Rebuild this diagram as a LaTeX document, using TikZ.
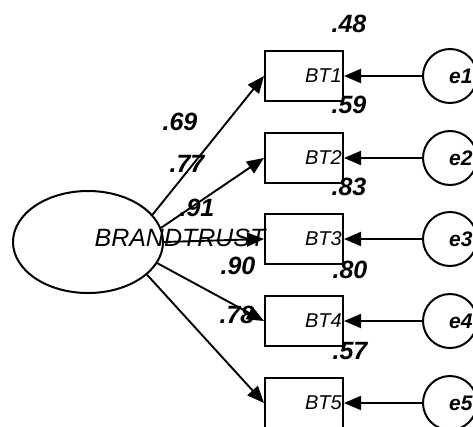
\documentclass[tikz,border=0pt]{standalone}
\usepackage{fontspec}
\setmainfont{Liberation Sans}
\usetikzlibrary{arrows.meta,shapes.geometric}
\begin{document}
\begin{tikzpicture}[x=1pt,y=-1pt,
  obs/.style={draw,line width=2pt,minimum width=78pt,minimum height=50pt,inner sep=0pt},
  err/.style={draw,circle,line width=2pt,minimum size=54pt,inner sep=0pt},
  lat/.style={draw,ellipse,line width=2pt,minimum width=150pt,minimum height=102pt,inner sep=0pt},
  arr/.style={line width=1.9pt,-{Triangle[length=17pt,width=14pt]}},
  num/.style={font=\fontsize{25}{25}\selectfont\bfseries\itshape,inner sep=0pt},
  btlab/.style={font=\fontsize{20}{20}\selectfont\itshape,inner sep=0pt,anchor=east},
  elab/.style={font=\fontsize{21}{21}\selectfont\bfseries\itshape,inner sep=0pt,anchor=west},
  latlab/.style={font=\fontsize{25}{25}\selectfont\itshape,inner sep=0pt}
]
\useasboundingbox (0,0) rectangle (473,426);
\node[lat] (bt) at (88,242) {};
\node[latlab] (btl) at (180,238) {BRANDTRUST};
\foreach \i/\y in {1/76,2/158,3/239,4/321,5/403}{
  \node[obs] (b\i) at (304,\y) {};
  \node[btlab] (bl\i) at (342,\y) {BT\i};
  \node[err] (e\i) at (450,\y) {};
  \node[elab] (el\i) at (449,\y) {e\i};
  \draw[arr] (e\i) -- (b\i.east);
}
\draw[arr] (bt.23) -- (b1.west);
\draw[arr] (bt.11) -- (b2.west);
\draw[arr] (bt.0) -- (b3.west);
\draw[arr] (bt.-17) -- (b4.west);
\draw[arr] (bt.-29) -- (b5.west);
\node[num] (r1) at (349,24) {.48};
\node[num] (r2) at (349,105) {.59};
\node[num] (r3) at (349,187) {.83};
\node[num] (r4) at (350,270) {.80};
\node[num] (r5) at (350,351) {.57};
\node[num] (l1) at (180,122) {.69};
\node[num] (l2) at (187,164) {.77};
\node[num] (l3) at (197,208) {.91};
\node[num] (l4) at (238,266) {.90};
\node[num] (l5) at (237,315) {.78};
\end{tikzpicture}
\end{document}
